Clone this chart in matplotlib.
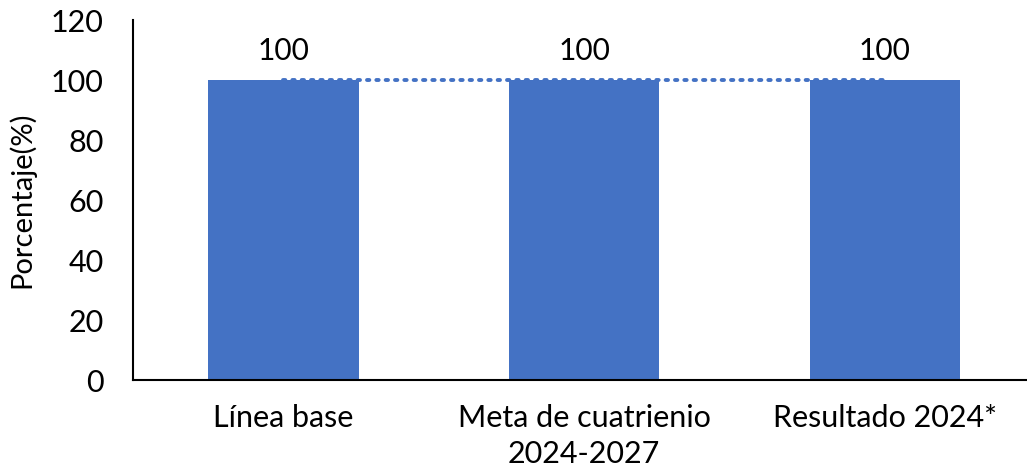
import numpy as np
import matplotlib.pyplot as plt

plt.rcParams['font.family'] = ['Lato', 'DejaVu Sans']

categories = ['Línea base', 'Meta de cuatrienio\n2024-2027', 'Resultado 2024*']
values = [100, 100, 100]
meta_line = [100, 100, 100]

blue = '#4472C4'

fig = plt.figure(figsize=(10.27, 4.73), dpi=100)
ax = fig.add_axes([133 / 1027, 93 / 473, 902 / 1027, 360 / 473])

x = np.arange(len(categories))
ax.bar(x, values, 0.5, color=blue, zorder=2)
ax.plot(x, meta_line, linestyle=(0, (0.6, 1.8)), color=blue, linewidth=2.8,
        dash_capstyle='round', zorder=3)

for xi, v in zip(x, values):
    ax.text(xi, v + 5, f'{v}', ha='center', va='bottom', fontsize=21.5)

ax.set_xlim(-0.5, 2.5)
ax.set_ylim(0, 120)
ax.set_yticks(range(0, 121, 20))
ax.set_xticks(x)
ax.set_xticklabels(categories, fontsize=22, linespacing=1.35)
ax.tick_params(axis='y', labelsize=22, length=0, pad=21)
ax.tick_params(axis='x', length=0, pad=17)
ax.set_ylabel('Porcentaje(%)', fontsize=21)
ax.yaxis.set_label_coords(-0.108, 0.5)

for s in ['top', 'right']:
    ax.spines[s].set_visible(False)
ax.spines['left'].set_linewidth(1.5)
ax.spines['bottom'].set_linewidth(1.5)

fig.savefig('out.png', dpi=100)
